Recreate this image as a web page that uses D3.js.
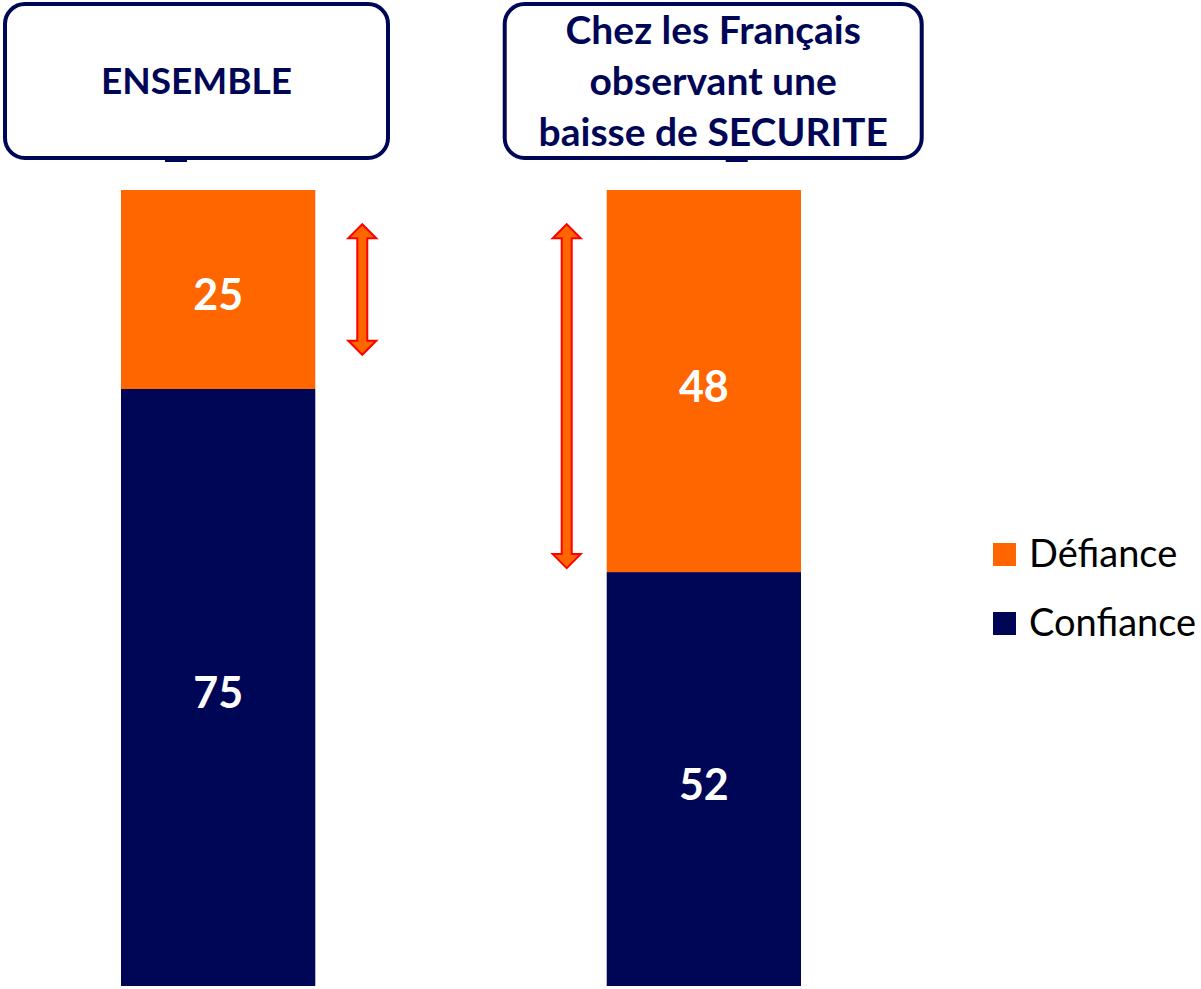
<!DOCTYPE html>
<html>
<head>
<meta charset="utf-8">
<script src="https://cdn.jsdelivr.net/npm/d3@7"></script>
<style>
  body { margin: 0; background: #fff; }
  svg { display: block; font-family: Lato, 'Noto Sans', sans-serif; }
</style>
</head>
<body>
<svg></svg>
<script>
// data
const groups = ['ENSEMBLE', 'SECURITE'];
const titleLines = [['ENSEMBLE'], ['Chez les Français', 'observant une', 'baisse de SECURITE']];
const confiance = [75, 52];
const defiance = [25, 48];
const seriesNames = ['Confiance', 'Défiance'];
const legendOrder = ['Défiance', 'Confiance'];
// arrow annotation (value span on the y scale)
const arrowTop = [95.7, 95.7];
const arrowBottom = [79.3, 52.5];

const width = 1201;
const height = 989;
const navy = '#000656';
const orange = '#ff6600';

let svg = d3.select('svg')
    .attr('width', width)
    .attr('height', height);

let color = d3.scaleOrdinal()
    .domain(seriesNames)
    .range([navy, orange]);

let x = d3.scaleBand()
    .domain(groups)
    .range([121, 801])
    .paddingInner(0.6)
    .paddingOuter(0);

let y = d3.scaleLinear()
    .domain([0, 100])
    .range([986, 190]);

let rows = groups.map((g, i) => ({ group: g, 'Confiance': confiance[i], 'Défiance': defiance[i] }));
let stacked = d3.stack().keys(seriesNames)(rows);

// bars
let layers = svg.append('g')
    .selectAll('g')
    .data(stacked)
    .join('g')
    .attr('fill', d => color(d.key));

layers.selectAll('rect')
    .data(d => d)
    .join('rect')
    .attr('x', d => x(d.data.group))
    .attr('y', d => y(d[1]))
    .attr('width', x.bandwidth())
    .attr('height', d => y(d[0]) - y(d[1]));

layers.selectAll('text')
    .data(d => d)
    .join('text')
    .attr('x', d => x(d.data.group) + x.bandwidth() / 2)
    .attr('y', d => (y(d[0]) + y(d[1])) / 2 + 5)
    .attr('dy', '0.36em')
    .attr('text-anchor', 'middle')
    .attr('fill', '#fff')
    .attr('font-weight', 700)
    .attr('font-size', 43)
    .text(d => d[1] - d[0]);

// title boxes
const boxes = [
    { dx: -116, w: 383, tab: 160, size: 37 },
    { dx: -102, w: 417, tab: 221, size: 39 }
];
let titles = svg.append('g')
    .selectAll('g')
    .data(groups)
    .join('g')
    .attr('transform', (g, i) => `translate(${x(g) + boxes[i].dx}, 4)`);

titles.append('rect')
    .attr('width', (g, i) => boxes[i].w)
    .attr('height', 154)
    .attr('rx', 20)
    .attr('fill', '#fff')
    .attr('stroke', navy)
    .attr('stroke-width', 4);

titles.append('rect')
    .attr('x', (g, i) => boxes[i].tab)
    .attr('y', 152)
    .attr('width', 22)
    .attr('height', 6)
    .attr('fill', navy);

titles.each(function (g, i) {
    let lines = titleLines[i];
    let lh = 51;
    let t = d3.select(this).append('text')
        .attr('text-anchor', 'middle')
        .attr('fill', navy)
        .attr('font-weight', 700)
        .attr('font-size', boxes[i].size);
    lines.forEach((line, j) => {
        t.append('tspan')
            .attr('x', boxes[i].w / 2)
            .attr('y', 77 + (j - (lines.length - 1) / 2) * lh)
            .attr('dy', '0.36em')
            .text(line);
    });
});

// double arrows
const arrowX = [x(groups[0]) + x.bandwidth() + 47, x(groups[1]) - 40];
function arrowPath(cx, y0, y1) {
    let sw = 5, hw = 14, hh = 14;
    return `M${cx},${y0} L${cx + hw},${y0 + hh} L${cx + sw},${y0 + hh} L${cx + sw},${y1 - hh}` +
        ` L${cx + hw},${y1 - hh} L${cx},${y1} L${cx - hw},${y1 - hh} L${cx - sw},${y1 - hh}` +
        ` L${cx - sw},${y0 + hh} L${cx - hw},${y0 + hh} Z`;
}
svg.append('g')
    .selectAll('path')
    .data(groups)
    .join('path')
    .attr('d', (g, i) => arrowPath(arrowX[i], y(arrowTop[i]), y(arrowBottom[i])))
    .attr('fill', orange)
    .attr('stroke', '#ff0000')
    .attr('stroke-width', 2)
    .attr('stroke-linejoin', 'miter');

// legend
let legend = svg.append('g')
    .attr('transform', 'translate(993, 543)')
    .selectAll('g')
    .data(legendOrder)
    .join('g')
    .attr('transform', (d, i) => `translate(0, ${i * 69})`);

legend.append('rect')
    .attr('width', 23)
    .attr('height', 23)
    .attr('fill', d => color(d));

legend.append('text')
    .attr('x', 36)
    .attr('y', 24)
    .attr('font-size', 38)
    .attr('fill', '#000')
    .text(d => d);
</script>
</body>
</html>
